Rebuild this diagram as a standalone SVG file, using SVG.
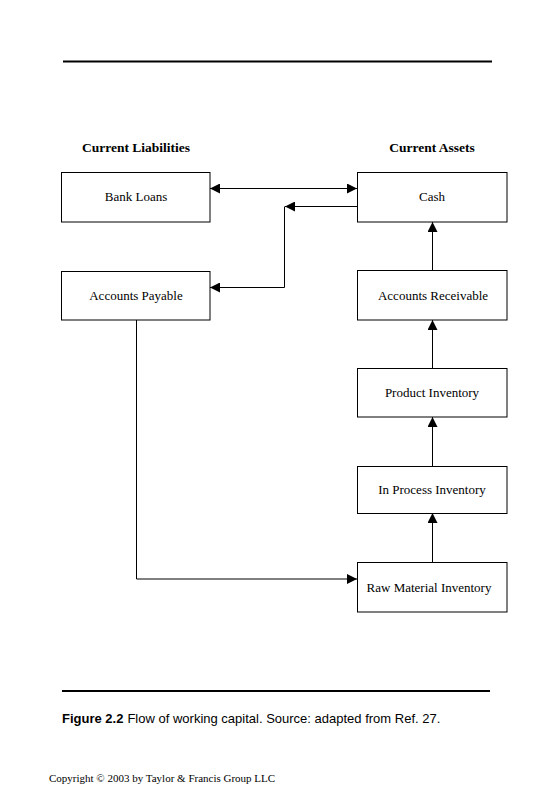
<svg xmlns="http://www.w3.org/2000/svg" width="558" height="800" viewBox="0 0 558 800">
<defs>
<marker id="ah" viewBox="0 0 10 10" refX="10" refY="5" markerWidth="10" markerHeight="10" markerUnits="userSpaceOnUse" orient="auto-start-reverse">
<path d="M0,0 L10,5 L0,10 Z" fill="#000"/>
</marker>
</defs>
<style>
.box{fill:#fff;stroke:#000;stroke-width:1}
.lbl{font-family:"Liberation Serif",serif;font-size:13px;fill:#000;text-anchor:middle}
.hdr{font-family:"Liberation Serif",serif;font-size:13.5px;font-weight:bold;fill:#000;text-anchor:middle}
.con{fill:none;stroke:#000;stroke-width:1}
</style>
<rect width="558" height="800" fill="#fff"/>
<line x1="63" y1="61.5" x2="492" y2="61.5" stroke="#000" stroke-width="2"/>
<line x1="62" y1="691" x2="490" y2="691" stroke="#000" stroke-width="2"/>
<text class="hdr" x="136" y="152">Current Liabilities</text>
<text class="hdr" x="432" y="152">Current Assets</text>
<g id="bank-loans"><rect class="box" x="61.5" y="172.5" width="148.5" height="49.5"/><text class="lbl" x="136" y="201">Bank Loans</text></g>
<g id="cash"><rect class="box" x="357.5" y="172.5" width="149.5" height="49.5"/><text class="lbl" x="432" y="201">Cash</text></g>
<g id="accounts-payable"><rect class="box" x="61.5" y="271.5" width="148.5" height="48.5"/><text class="lbl" x="136" y="300">Accounts Payable</text></g>
<g id="accounts-receivable"><rect class="box" x="357.5" y="270.5" width="149.5" height="49.5"/><text class="lbl" x="433" y="300">Accounts Receivable</text></g>
<g id="product-inventory"><rect class="box" x="357.5" y="368.5" width="149.5" height="48.5"/><text class="lbl" x="432" y="397">Product Inventory</text></g>
<g id="in-process-inventory"><rect class="box" x="357.5" y="466.5" width="149.5" height="47"/><text class="lbl" x="432" y="494">In Process Inventory</text></g>
<g id="raw-material-inventory"><rect class="box" x="357.5" y="562.5" width="149.5" height="49.5"/><text class="lbl" x="429" y="592">Raw Material Inventory</text></g>
<g id="connectors">
<line class="con" x1="210" y1="188.5" x2="357" y2="188.5" marker-start="url(#ah)" marker-end="url(#ah)"/>
<line class="con" x1="357" y1="206.5" x2="285" y2="206.5" marker-end="url(#ah)"/>
<polyline class="con" points="284.5,206.5 284.5,287.5 210,287.5" marker-end="url(#ah)"/>
<line class="con" x1="432.5" y1="270" x2="432.5" y2="222" marker-end="url(#ah)"/>
<line class="con" x1="432.5" y1="368" x2="432.5" y2="320" marker-end="url(#ah)"/>
<line class="con" x1="432.5" y1="466" x2="432.5" y2="417" marker-end="url(#ah)"/>
<line class="con" x1="432.5" y1="562" x2="432.5" y2="513" marker-end="url(#ah)"/>
<polyline class="con" points="136.5,320 136.5,579 357,579" marker-end="url(#ah)"/>
</g>
<text x="62" y="723" font-family="Liberation Sans, Arial, sans-serif" font-size="13" fill="#000"><tspan font-weight="bold">Figure 2.2</tspan><tspan dx="4">Flow of working capital. Source: adapted from Ref. 27.</tspan></text>
<text x="49" y="782" font-family="Liberation Serif, serif" font-size="11" fill="#000">Copyright © 2003 by Taylor &amp; Francis Group LLC</text>
</svg>
